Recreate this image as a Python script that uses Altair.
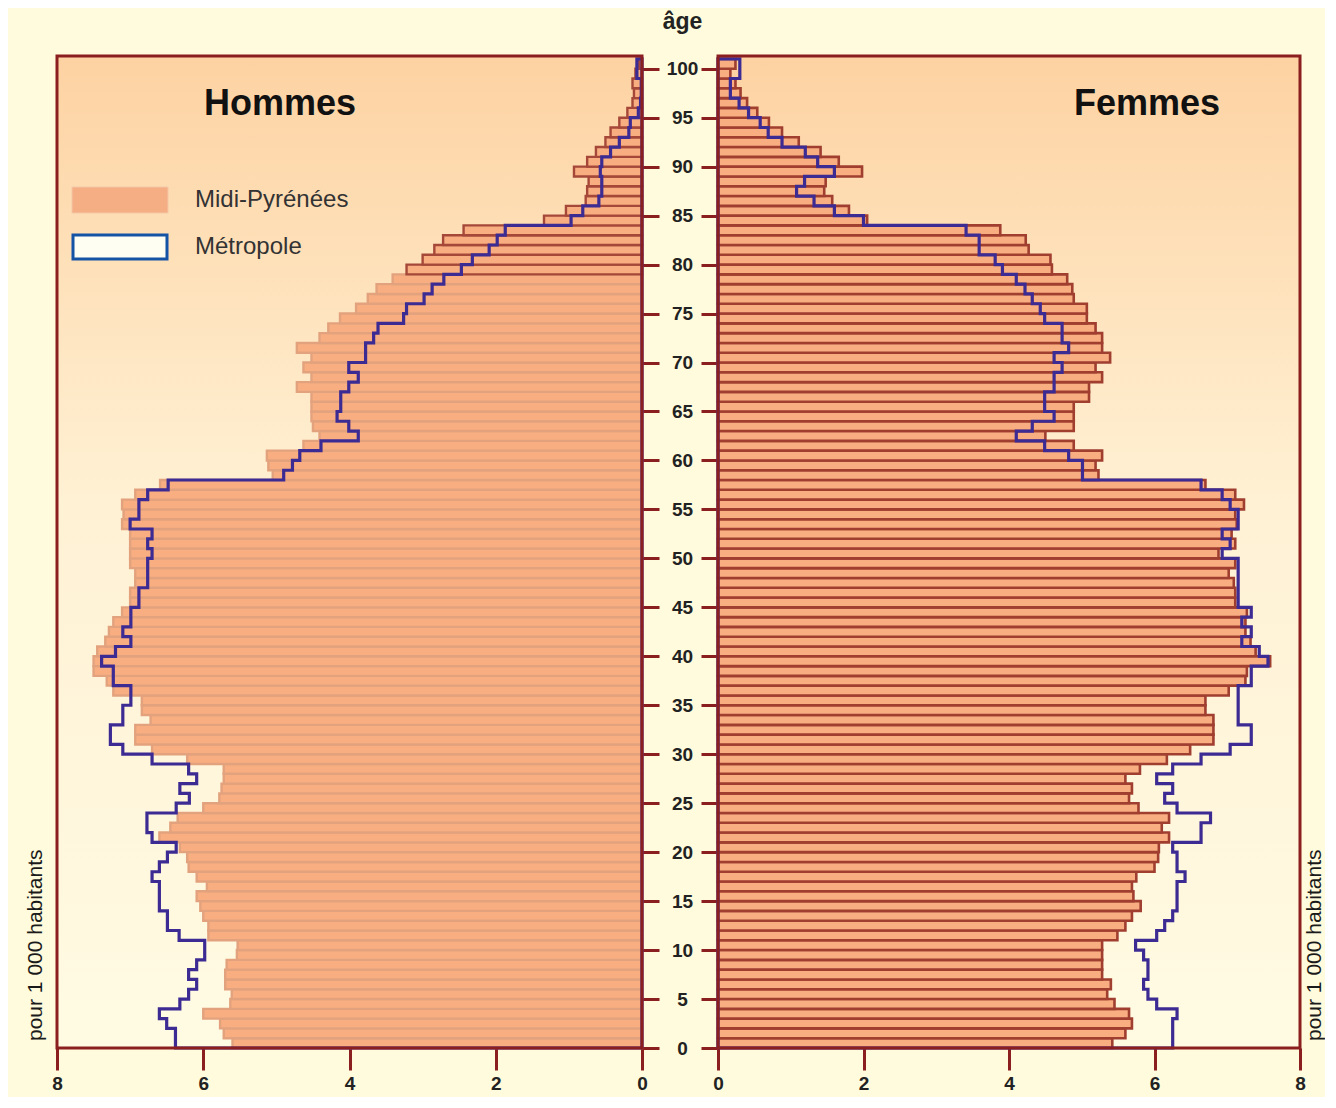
import altair as alt
import pandas as pd

# ---------------- data (per 1 000 inhabitants, single years of age) ----------------
ages = list(range(101))

hommes_mp = [5.60, 5.72, 5.77, 6.00, 5.63, 5.61, 5.70, 5.70, 5.68, 5.54,
             5.53, 5.93, 5.93, 6.00, 6.04, 6.09, 5.95, 6.09, 6.20, 6.22,
             6.32, 6.60, 6.45, 6.35, 6.00, 5.78, 5.75, 5.72, 5.72, 6.22,
             6.70, 6.93, 6.93, 6.72, 6.84, 6.84, 7.23, 7.32, 7.50, 7.50,
             7.45, 7.34, 7.29, 7.23, 7.11, 7.00, 7.00, 6.93, 6.93, 7.00,
             7.00, 7.00, 7.00, 7.11, 7.09, 7.11, 6.93, 6.59, 5.05, 5.11,
             5.13, 4.63, 4.41, 4.50, 4.52, 4.52, 4.52, 4.72, 4.52, 4.63,
             4.52, 4.72, 4.41, 4.29, 4.13, 3.91, 3.75, 3.63, 3.41, 3.22,
             3.00, 2.84, 2.72, 2.44, 1.34, 1.04, 0.77, 0.75, 0.73, 0.93,
             0.75, 0.63, 0.50, 0.43, 0.31, 0.20, 0.13, 0.11, 0.13, 0.09,
             0.04]

hommes_met = [6.38, 6.38, 6.50, 6.60, 6.32, 6.20, 6.09, 6.20, 6.09, 5.98,
              5.98, 6.33, 6.49, 6.49, 6.60, 6.60, 6.60, 6.70, 6.60, 6.49,
              6.37, 6.70, 6.77, 6.77, 6.37, 6.19, 6.32, 6.09, 6.20, 6.70,
              7.10, 7.27, 7.27, 7.10, 7.10, 6.99, 6.99, 7.23, 7.23, 7.39,
              7.20, 6.99, 7.10, 6.99, 6.99, 6.88, 6.88, 6.76, 6.76, 6.76,
              6.70, 6.76, 6.70, 7.00, 6.88, 6.88, 6.76, 6.48, 4.90, 4.78,
              4.68, 4.39, 3.88, 4.01, 4.17, 4.12, 4.12, 4.01, 3.88, 4.01,
              3.78, 3.78, 3.67, 3.61, 3.26, 3.22, 2.98, 2.87, 2.71, 2.47,
              2.32, 2.09, 1.98, 1.87, 0.97, 0.81, 0.59, 0.55, 0.55, 0.57,
              0.55, 0.43, 0.31, 0.18, 0.16, 0.05, 0.02, 0.01, 0.01, 0.07,
              0.07]

femmes_mp = [5.42, 5.60, 5.69, 5.65, 5.45, 5.35, 5.40, 5.28, 5.28, 5.28,
             5.28, 5.49, 5.60, 5.69, 5.81, 5.71, 5.69, 5.75, 6.00, 6.05,
             6.06, 6.20, 6.10, 6.20, 5.78, 5.65, 5.69, 5.60, 5.80, 6.17,
             6.49, 6.81, 6.81, 6.81, 6.70, 6.70, 7.02, 7.25, 7.27, 7.59,
             7.39, 7.32, 7.25, 7.25, 7.27, 7.11, 7.11, 7.09, 7.02, 7.11,
             6.88, 7.11, 7.06, 7.13, 7.11, 7.23, 7.11, 6.70, 5.23, 5.19,
             5.28, 4.89, 4.50, 4.89, 4.89, 4.89, 5.10, 5.10, 5.28, 5.19,
             5.39, 5.28, 5.28, 5.19, 5.07, 5.07, 4.89, 4.87, 4.80, 4.59,
             4.57, 4.27, 4.23, 3.88, 2.05, 1.80, 1.57, 1.46, 1.48, 1.98,
             1.66, 1.41, 1.11, 0.88, 0.70, 0.54, 0.40, 0.31, 0.24, 0.17,
             0.24]

femmes_met = [6.25, 6.25, 6.25, 6.31, 6.03, 5.91, 5.85, 5.91, 5.91, 5.85,
              5.74, 6.03, 6.14, 6.25, 6.31, 6.31, 6.31, 6.42, 6.31, 6.31,
              6.25, 6.64, 6.64, 6.77, 6.31, 6.14, 6.25, 6.03, 6.25, 6.64,
              7.04, 7.33, 7.33, 7.15, 7.15, 7.15, 7.15, 7.33, 7.33, 7.56,
              7.44, 7.20, 7.33, 7.20, 7.33, 7.15, 7.15, 7.15, 7.15, 7.15,
              6.93, 7.04, 6.93, 7.15, 7.15, 7.04, 6.93, 6.64, 5.01, 5.01,
              4.82, 4.49, 4.10, 4.32, 4.62, 4.49, 4.49, 4.62, 4.62, 4.73,
              4.62, 4.82, 4.73, 4.73, 4.49, 4.43, 4.32, 4.22, 4.10, 3.91,
              3.81, 3.59, 3.59, 3.41, 2.00, 1.60, 1.32, 1.08, 1.19, 1.60,
              1.37, 1.20, 0.88, 0.69, 0.58, 0.42, 0.29, 0.17, 0.17, 0.30,
              0.30]

age_ticks = list(range(0, 101, 5))
x_ticks = [0, 2, 4, 6, 8]
legend_labels = ["Midi-Pyrénées", "Métropole"]
unit_label = "pour 1 000 habitants"

# ---------------- style ----------------
SANS = "Liberation Sans, Arial, sans-serif"
DARKRED = "#8b1e1e"
BLUE = "#3d2b94"
BAR_FILL = "#f8ae80"
AGE_TOP = 101.3
H = 992
W_L, W_R = 585, 582

gradient = alt.LinearGradient(
    gradient="linear",
    stops=[alt.GradientStop(offset=0, color="#fdd2a2"),
           alt.GradientStop(offset=0.45, color="#fff1d4"),
           alt.GradientStop(offset=1, color="#fffbe3")],
    x1=0, x2=0, y1=0, y2=1)


def bars_df(vals):
    return pd.DataFrame({"age": ages, "value": vals})


def outline_df(vals):
    xs = [0.0] + list(vals) + [vals[-1], 0.0, 0.0]
    ys = [0] + ages + [101, 101, 0]
    return pd.DataFrame({"value": xs, "age": ys, "order": list(range(len(xs)))})


one = pd.DataFrame({"k": [0]})


def panel(mp, met, reverse, width, title_text, title_x, side_x, y_axis,
          stroke_enc, stroke_w, legend):
    xscale = alt.Scale(domain=[0, 8], reverse=reverse, nice=False, zero=True)
    yscale = alt.Scale(domain=[0, AGE_TOP], nice=False, zero=True)
    xaxis = alt.Axis(values=x_ticks, title=None, grid=False, domain=False,
                     tickColor=DARKRED, tickWidth=3, tickSize=22,
                     labelFont=SANS, labelFontSize=19, labelFontWeight="bold",
                     labelColor="#222222", labelPadding=4, labelFlush=False,
                     labelOverlap=False, format="d")

    bg = alt.Chart(one).mark_rect(fill=gradient).encode(
        x=alt.XDatum(0, type="quantitative", scale=xscale, axis=xaxis),
        x2=alt.X2Datum(8),
        y=alt.YDatum(0, type="quantitative", scale=yscale, axis=y_axis),
        y2=alt.Y2Datum(AGE_TOP))

    bars = alt.Chart(bars_df(mp)).transform_calculate(
        age_top="datum.age + 1"
    ).mark_rect(fill=BAR_FILL, strokeWidth=stroke_w).encode(
        x=alt.X("value:Q", scale=xscale, axis=xaxis),
        x2=alt.X2Datum(0),
        y=alt.Y("age:Q", scale=yscale, axis=y_axis),
        y2="age_top:Q",
        stroke=stroke_enc)

    line = alt.Chart(outline_df(met)).mark_line(
        color=BLUE, strokeWidth=3.2, interpolate="step-before", strokeJoin="miter"
    ).encode(
        x=alt.X("value:Q", scale=xscale, axis=xaxis),
        y=alt.Y("age:Q", scale=yscale, axis=y_axis),
        order="order:Q")

    border = alt.Chart(one).mark_rect(filled=False, stroke=DARKRED, strokeWidth=3).encode(
        x=alt.XDatum(0, type="quantitative", scale=xscale, axis=xaxis),
        x2=alt.X2Datum(8),
        y=alt.YDatum(0, type="quantitative", scale=yscale, axis=y_axis),
        y2=alt.Y2Datum(AGE_TOP))

    title = alt.Chart(pd.DataFrame({"t": [title_text]})).mark_text(
        font=SANS, fontSize=36, fontWeight="bold", color="#111111",
        align="center", baseline="middle"
    ).encode(text="t:N", x=alt.value(title_x), y=alt.value(48))

    side = alt.Chart(pd.DataFrame({"t": [unit_label]})).mark_text(
        font=SANS, fontSize=21, color="#1a1a1a", angle=270,
        align="left", baseline="middle"
    ).encode(text="t:N", x=alt.value(side_x), y=alt.value(985))

    layers = [bg, bars, line, border, title, side]

    if legend:
        leg1 = alt.Chart(one).mark_rect(fill="#f5ad84", stroke="#f3c8a8", strokeWidth=1).encode(
            x=alt.value(15), x2=alt.value(111), y=alt.value(131), y2=alt.value(157))
        leg2 = alt.Chart(one).mark_rect(fill="#fffef2", stroke="#1553a5", strokeWidth=3).encode(
            x=alt.value(16), x2=alt.value(110), y=alt.value(179), y2=alt.value(203))
        legtxt1 = alt.Chart(pd.DataFrame({"t": [legend_labels[0]]})).mark_text(
            font=SANS, fontSize=24, color="#333333", align="left", baseline="middle"
        ).encode(text="t:N", x=alt.value(138), y=alt.value(144))
        legtxt2 = alt.Chart(pd.DataFrame({"t": [legend_labels[1]]})).mark_text(
            font=SANS, fontSize=24, color="#333333", align="left", baseline="middle"
        ).encode(text="t:N", x=alt.value(138), y=alt.value(191))
        layers += [leg1, leg2, legtxt1, legtxt2]

    return alt.layer(*layers).properties(width=width, height=H)


left_yaxis = alt.Axis(orient="right", values=age_ticks, labels=False, ticks=True,
                      tickSize=17, tickWidth=3, tickColor=DARKRED,
                      domain=False, grid=False, title=None)

right_yaxis = alt.Axis(orient="left", values=age_ticks, labels=True, ticks=True,
                       tickSize=17, tickWidth=3, tickColor=DARKRED,
                       domain=False, grid=False,
                       labelFont=SANS, labelFontSize=19, labelFontWeight="bold",
                       labelColor="#222222", labelAlign="center", labelBaseline="middle",
                       labelPadding=19, labelFlush=False, labelOverlap=False,
                       title="âge", titleAngle=0, titleX=-36, titleY=-35,
                       titleAlign="center", titleBaseline="middle",
                       titleFont=SANS, titleFontSize=23, titleFontWeight="bold",
                       titleColor="#222222")

left_stroke = alt.condition("datum.age >= 79", alt.value("#a5483a"), alt.value("#e3a27e"))
right_stroke = alt.value("#a03e30")

left = panel(hommes_mp, hommes_met, True, W_L, "Hommes", 223, -21, left_yaxis,
             left_stroke, 2.4, True)
right = panel(femmes_mp, femmes_met, False, W_R, "Femmes", 429, 597, right_yaxis,
              right_stroke, 2.6, False)

chart = alt.hconcat(left, right, spacing=76, bounds="flush").properties(
    padding={"left": 17, "top": 2, "right": 0, "bottom": 4}
).configure(background="#fffbdc").configure_view(strokeWidth=0)

chart.save("out.html", embed_options={"renderer": "svg", "actions": False})
